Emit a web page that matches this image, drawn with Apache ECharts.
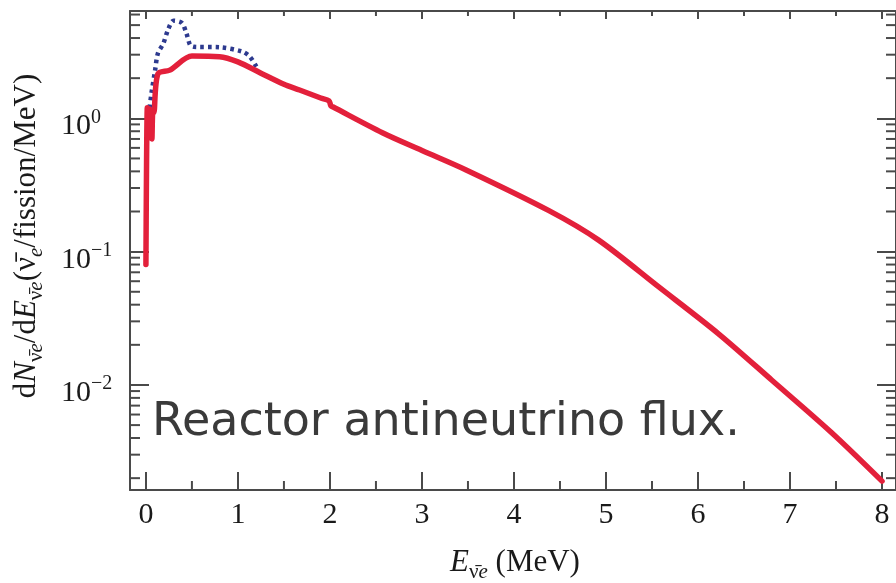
<!DOCTYPE html>
<html>
<head>
<meta charset="utf-8">
<script src="https://cdn.jsdelivr.net/npm/echarts@6/dist/echarts.min.js"></script>
<style>html,body{margin:0;padding:0;background:#fff;}#c{width:896px;height:583px;}</style>
</head>
<body>
<div id="c"></div>
<script>
// ---- data ----
const redE   = [0, 0.005, 0.01, 0.015, 0.025, 0.035, 0.045, 0.055, 0.065, 0.075, 0.085, 0.13, 0.26, 0.5, 0.8, 1.0, 1.25, 1.5, 1.67, 1.9, 1.99, 2.01, 2.03, 2.57, 3.0, 3.48, 4.38, 4.92, 5.57, 6.22, 6.8, 7.45, 8.0];
const redFlux= [0.08, 0.3, 0.8, 1.2, 0.72, 1.18, 0.72, 1.15, 0.7, 1.12, 1.1, 2.15, 2.3, 2.93, 2.9, 2.65, 2.18, 1.8, 1.63, 1.42, 1.35, 1.24, 1.22, 0.78, 0.574, 0.41, 0.203, 0.122, 0.0546, 0.0243, 0.0109, 0.0044, 0.0019];
const blueE   = [0.04, 0.06, 0.1, 0.13, 0.19, 0.24, 0.3, 0.39, 0.44, 0.48, 0.52, 0.8, 1.05, 1.13, 1.2];
const blueFlux= [1.2, 1.54, 2.3, 3.07, 3.65, 4.6, 5.4, 5.2, 4.34, 3.55, 3.44, 3.41, 3.16, 2.9, 2.44];
const xMajorTicks = [0, 1, 2, 3, 4, 5, 6, 7, 8];
const xMinorTicks = [0.5, 1.5, 2.5, 3.5, 4.5, 5.5, 6.5, 7.5];
const yMinorTicks = [0.002,0.003,0.004,0.005,0.006,0.007,0.008,0.009,
                     0.02,0.03,0.04,0.05,0.06,0.07,0.08,0.09,
                     0.2,0.3,0.4,0.5,0.6,0.7,0.8,0.9,
                     2,3,4,5,6];
const xRange = [-0.173, 8.152];
const yRange = [0.00163, 6.38];
const overlayText = 'Reactor antineutrino flux.';

// ---- chart ----
const AX = '#4a4a4a';
const SERIF = '"Liberation Serif", "DejaVu Serif", serif';
const chart = echarts.init(document.getElementById('c'), null, {renderer: 'canvas'});

function zip(a, b) { return a.map((v, i) => [v, b[i]]); }

const xBase = {
  type: 'value', min: xRange[0], max: xRange[1],
  splitLine: {show: false},
  axisLine: {show: true, onZero: false, lineStyle: {color: AX, width: 2}},
};
const yBase = {
  type: 'log', logBase: 10, min: yRange[0], max: yRange[1],
  splitLine: {show: false},
  axisLine: {show: true, onZero: false, lineStyle: {color: AX, width: 2}},
};

function minorX(params, api) {
  const x = api.value(0);
  const b = api.coord([x, yRange[0]]);
  const t = api.coord([x, yRange[1]]);
  const st = {stroke: AX, lineWidth: 2};
  return {type: 'group', children: [
    {type: 'line', shape: {x1: b[0], y1: b[1], x2: b[0], y2: b[1] - 9}, style: st},
    {type: 'line', shape: {x1: t[0], y1: t[1], x2: t[0], y2: t[1] + 5}, style: st}
  ]};
}
function minorY(params, api) {
  const y = api.value(1);
  const l = api.coord([xRange[0], y]);
  const r = api.coord([xRange[1], y]);
  const st = {stroke: AX, lineWidth: 2};
  return {type: 'group', children: [
    {type: 'line', shape: {x1: l[0], y1: l[1], x2: l[0] + 10, y2: l[1]}, style: st},
    {type: 'line', shape: {x1: r[0], y1: r[1], x2: r[0] - 10, y2: r[1]}, style: st}
  ]};
}

const titleRich = {
  r: {fontFamily: SERIF, fontSize: 31, lineHeight: 40, verticalAlign: 'middle', fill: '#1a1a1a'},
  i: {fontFamily: SERIF, fontStyle: 'italic', fontSize: 31, lineHeight: 40, verticalAlign: 'middle', fill: '#1a1a1a'},
  s: {fontFamily: SERIF, fontSize: 21, lineHeight: 40, verticalAlign: 'bottom', fill: '#1a1a1a'},
  si: {fontFamily: SERIF, fontStyle: 'italic', fontSize: 21, lineHeight: 40, verticalAlign: 'bottom', fill: '#1a1a1a'}
};

chart.setOption({
  animation: false,
  backgroundColor: '#fff',
  grid: {left: 130, top: 11, width: 768, height: 479, containLabel: false},
  xAxis: [
    Object.assign({}, xBase, {
      position: 'bottom',
      axisTick: {show: true, inside: true, length: 18, customValues: xMajorTicks, lineStyle: {color: AX, width: 2}},
      axisLabel: {show: true, customValues: xMajorTicks, margin: 10, color: '#1a1a1a', fontFamily: SERIF, fontSize: 30,
                  formatter: v => String(Math.round(v))}
    }),
    Object.assign({}, xBase, {
      position: 'top',
      axisTick: {show: true, inside: true, length: 8, customValues: xMajorTicks, lineStyle: {color: AX, width: 2}},
      axisLabel: {show: false}
    })
  ],
  yAxis: [
    Object.assign({}, yBase, {
      position: 'left',
      axisTick: {show: true, inside: true, length: 19, lineStyle: {color: AX, width: 2}},
      axisLabel: {
        show: true, align: 'left', margin: 69, padding: [12, 0, 0, 0],
        formatter: v => {
          const l = Math.log10(v), r = Math.round(l);
          if (Math.abs(l - r) > 1e-6) return '';
          return '{b|10}{p|' + (r < 0 ? '\u2212' + (-r) : String(r)) + '}';
        },
        rich: {
          b: {fontFamily: SERIF, fontSize: 30, color: '#1a1a1a', lineHeight: 34, verticalAlign: 'bottom'},
          p: {fontFamily: SERIF, fontSize: 20, color: '#1a1a1a', lineHeight: 34, verticalAlign: 'top'}
        }
      }
    }),
    Object.assign({}, yBase, {
      position: 'right',
      axisTick: {show: true, inside: true, length: 19, lineStyle: {color: AX, width: 2}},
      axisLabel: {show: false}
    })
  ],
  series: [
    {
      type: 'custom', name: 'xminor', xAxisIndex: 0, yAxisIndex: 0, clip: false, silent: true,
      data: xMinorTicks.map(v => [v, yRange[0]]), encode: {x: 0, y: 1}, renderItem: minorX, z: 5
    },
    {
      type: 'custom', name: 'yminor', xAxisIndex: 0, yAxisIndex: 0, clip: false, silent: true,
      data: yMinorTicks.map(v => [xRange[0], v]), encode: {x: 0, y: 1}, renderItem: minorY, z: 5
    },
    {
      type: 'line', name: 'dotted', data: zip(blueE, blueFlux), showSymbol: false,
      smooth: 0.3,
      lineStyle: {color: '#2d3a8f', width: 4.5, type: [3.5, 4], cap: 'butt'}, z: 3
    },
    {
      type: 'line', name: 'flux', data: zip(redE, redFlux), showSymbol: false,
      smooth: 0.3,
      lineStyle: {color: '#e3203b', width: 5.5, join: 'round', cap: 'round'}, z: 4
    }
  ],
  graphic: [
    {
      type: 'text', x: 27, y: 236, rotation: Math.PI / 2,
      style: {
        text: '{r|d}{i|N}{s|\u03bd\u0304}{si|e}{r|/d}{i|E}{s|\u03bd\u0304}{si|e}{r|(\u03bd\u0304}{si|e}{r|/fission/MeV)}',
        align: 'center', verticalAlign: 'middle', fill: '#1a1a1a', rich: titleRich
      }
    },
    {
      type: 'text', x: 515, y: 563,
      style: {
        text: '{i|E}{s|\u03bd\u0304}{si|e}{r| (MeV)}',
        align: 'center', verticalAlign: 'middle', fill: '#1a1a1a', rich: titleRich
      }
    },
    {
      type: 'text', x: 152, y: 423,
      style: {text: overlayText, fontFamily: '"DejaVu Sans", sans-serif', fontSize: 46, fill: '#3a3a3a',
              align: 'left', verticalAlign: 'middle'}
    }
  ]
});
</script>
</body>
</html>
